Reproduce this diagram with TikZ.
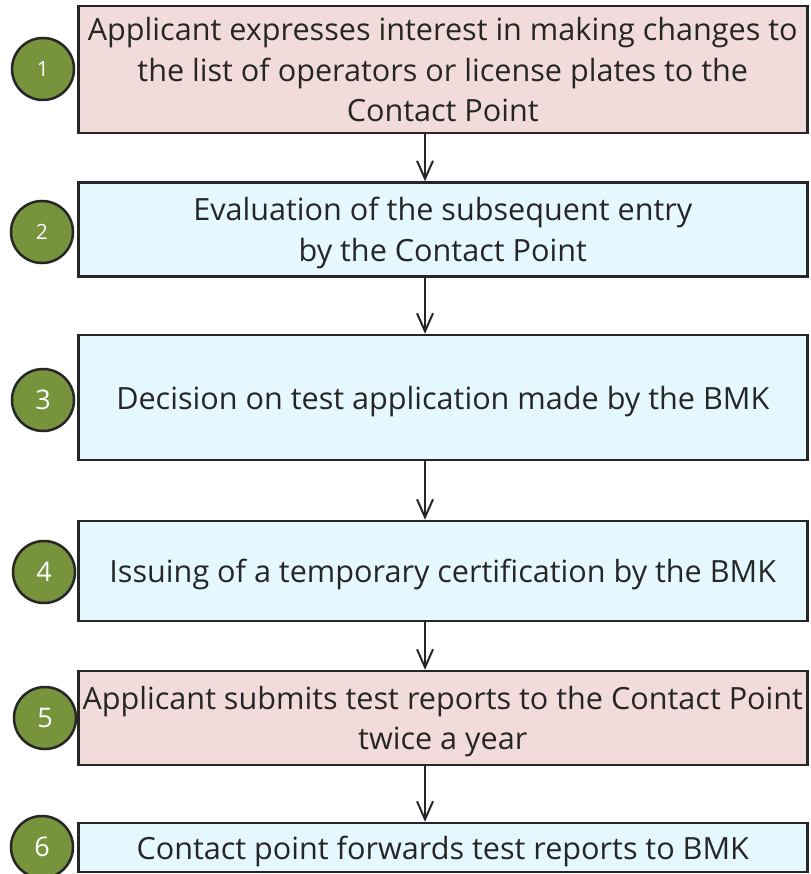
\documentclass[tikz,border=0pt]{standalone}
\usepackage{fontspec}
\setmainfont{Open Sans}
\usetikzlibrary{calc}
\usetikzlibrary{arrows.meta}
\usetikzlibrary{positioning}

\definecolor{stepPink}{HTML}{F2DCDB}
\definecolor{stepBlue}{HTML}{E6F8FF}
\definecolor{stepGreen}{HTML}{77933C}
\definecolor{stepLine}{HTML}{262626}

\tikzset{
  stepbox/.style={draw=stepLine, line width=2.5pt, minimum width=729pt, inner sep=0pt,
    align=center, text=stepLine, text depth=0pt, font=\fontsize{30.6}{40.5}\selectfont},
  pinkbox/.style={stepbox, fill=stepPink},
  bluebox/.style={stepbox, fill=stepBlue},
  numdot/.style={circle, draw=stepLine, line width=2.5pt, fill=stepGreen, minimum size=62pt,
    inner sep=0pt, text=white, font=\fontsize{27}{27}\selectfont},
  flow/.style={draw=stepLine, line width=2pt, -{Straight Barb[length=18pt,width=16pt]}}
}

\begin{document}
\begin{tikzpicture}[x=1pt, y=-1pt]
  \useasboundingbox (0,0) rectangle (810,874);

  \coordinate (ax) at (425,0) ;

  % the six steps
  \node[pinkbox, minimum height=127pt] (b1) at (442.75,69.5)
    {Applicant expresses interest in making changes to\\the list of operators or license plates to the\\Contact Point};
  \node[bluebox, minimum height=94pt] (b2) at (442.75,229.5)
    {Evaluation of the subsequent entry\\by the Contact Point};
  \node[bluebox, minimum height=125pt] (b3) at (442.75,397.5)
    {Decision on test application made by the BMK};
  \node[bluebox, minimum height=100pt] (b4) at (442.75,571)
    {Issuing of a temporary certification by the BMK};
  \node[pinkbox, minimum height=94pt] (b5) at (442.75,718)
    {Applicant submits test reports to the Contact Point\\twice a year};
  \node[bluebox, minimum height=49pt] (b6) at (442.75,847.5)
    {Contact point forwards test reports to BMK};

  % numbers
  \node[numdot, font=\fontsize{21}{21}\selectfont] (n1) at (43,69) {1};
  \node[numdot, font=\fontsize{21}{21}\selectfont] (n2) at (42,232) {2};
  \node[numdot] (n3) at (43,400) {3};
  \node[numdot] (n4) at (44,572) {4};
  \node[numdot] (n5) at (45,718) {5};
  \node[numdot] (n6) at (42,847) {6};

  \foreach \a/\b in {b1/b2, b2/b3, b3/b4, b4/b5, b5/b6}
    \draw[flow] (\a.south -| ax) -- (\b.north -| ax);

\end{tikzpicture}
\end{document}
